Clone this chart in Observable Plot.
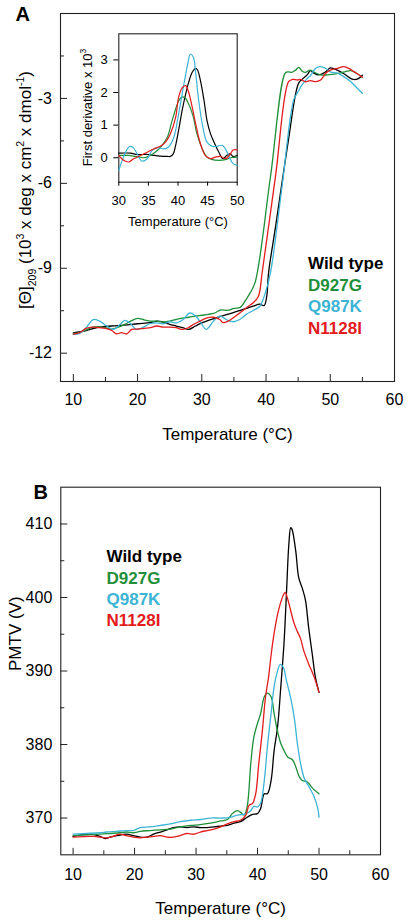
<!DOCTYPE html>
<html><head><meta charset="utf-8">
<script src="https://cdn.jsdelivr.net/npm/d3@7"></script>
<script src="https://cdn.jsdelivr.net/npm/@observablehq/plot@0.6"></script>
<style>
body{margin:0;background:#fff;}
#wrap{position:relative;width:408px;height:922px;background:#fff;}
#wrap svg{position:absolute;overflow:visible;}
</style></head><body><div id="wrap"></div>
<script>
// ---------- data ----------
const seriesNames = ["Wild type", "D927G", "Q987K", "N1128I"];
const seriesColors = ["#000000", "#1f8f3a", "#3cb4d4", "#e41a1c"];

// Panel A: molar ellipticity at 209 nm (10^3 deg cm2 dmol-1) vs temperature (°C)
const cdWildType = [[10,-11.28],[12,-11.2],[14,-11.08],[16,-11.04],[18,-11.01],[20,-10.96],[22,-10.92],[23,-10.87],[24,-10.9],[25,-10.98],[26,-11.04],[27,-11.1],[28,-11.16],[29,-11.04],[30,-10.93],[32,-10.77],[34,-10.63],[36,-10.49],[38,-10.34],[39,-10.27],[39.7,-10.32],[40.1,-10.0],[40.4,-9.15],[41.5,-7.5],[42.5,-5.95],[43.5,-4.45],[44.6,-2.85],[45.1,-2.45],[45.6,-2.33],[46.4,-2.17],[46.9,-2.02],[47.4,-2.1],[48.2,-2.17],[49.3,-2.06],[50.0,-1.92],[51.1,-2.0],[52.4,-2.17],[53.4,-2.32],[54.2,-2.32],[55,-2.18]];
const cdD927G = [[10,-11.3],[11,-11.27],[12,-11.18],[13,-11.08],[14,-11.06],[15,-11.1],[16,-11.15],[17,-11.08],[18,-10.98],[19,-10.86],[20,-10.77],[21,-10.82],[22,-10.87],[23,-10.87],[24,-10.9],[25,-10.87],[26,-10.81],[27,-10.76],[28,-10.73],[29,-10.69],[30,-10.66],[31,-10.63],[32,-10.58],[33,-10.47],[34,-10.49],[35,-10.42],[36,-10.38],[36.7,-10.17],[37.5,-9.88],[38.3,-9.5],[40.7,-5.75],[43.0,-2.1],[43.5,-2.06],[44.0,-2.08],[44.6,-2.0],[45.1,-1.9],[45.6,-2.03],[46.1,-2.08],[46.9,-2.0],[47.7,-2.1],[48.5,-2.17],[49.5,-2.17],[50.6,-2.14],[51.6,-2.1],[52.4,-2.05],[53.2,-2.02],[54,-2.1],[55,-2.25]];
const cdQ987K = [[10,-11.33],[11,-11.3],[12,-11.1],[13.1,-10.81],[14.1,-10.87],[15.2,-11.04],[16.2,-11.16],[17.3,-10.98],[18,-10.84],[18.8,-10.93],[19.8,-11.16],[20.9,-11.08],[21.9,-10.96],[23,-10.93],[24,-10.96],[25,-10.89],[26.1,-10.93],[27.1,-10.81],[28.1,-10.58],[28.9,-10.66],[29.7,-10.87],[30.7,-11.16],[31.8,-10.87],[32.8,-10.69],[33.8,-10.81],[34.9,-10.89],[35.9,-10.81],[36.9,-10.63],[38,-10.49],[39,-10.35],[39.9,-9.86],[40.7,-9.15],[42.5,-6.1],[44.3,-3.05],[44.9,-2.8],[45.6,-2.52],[46.4,-2.3],[46.9,-2.2],[47.7,-1.94],[48.4,-1.88],[49.3,-1.94],[50,-2.06],[51.1,-2.11],[52.1,-2.23],[53.2,-2.41],[54.2,-2.64],[55,-2.82]];
const cdN1128I = [[10,-11.33],[11,-11.27],[12,-11.12],[13,-11.08],[14,-11.1],[15,-11.12],[16,-11.2],[16.7,-11.32],[17.5,-11.27],[18.3,-11.32],[19.1,-11.16],[20,-11.15],[21,-11.12],[22,-11.1],[23,-11.04],[24,-11.08],[25,-11.08],[26,-11.1],[27,-11.16],[27.9,-11.1],[28.7,-10.98],[29.7,-10.87],[30.7,-10.76],[31.8,-10.73],[32.8,-10.81],[33.3,-10.92],[34.1,-10.87],[34.9,-10.75],[35.9,-10.58],[36.9,-10.4],[38,-10.22],[38.8,-10.0],[39.4,-9.15],[41.5,-5.7],[43.5,-2.41],[44.1,-2.33],[44.9,-2.35],[45.4,-2.33],[46.1,-2.41],[46.9,-2.37],[47.7,-2.41],[48.5,-2.35],[49.3,-2.11],[50,-2.0],[51.1,-1.94],[52.1,-1.88],[52.9,-1.94],[53.7,-2.06],[54.5,-2.17],[55,-2.25]];

// Inset: first derivative x 10^3
const dWildType = [[30,0.14],[32,0.14],[33.1,0.1],[35,0.1],[36,0.07],[37,0.05],[38.2,0.04],[38.7,0.04],[39.2,0.12],[39.6,0.38],[40.1,0.84],[40.7,1.45],[41.3,1.96],[41.8,2.31],[42.4,2.62],[43.0,2.74],[43.3,2.69],[43.8,2.36],[44.4,1.75],[44.9,1.14],[45.5,0.73],[46.2,0.43],[46.9,0.17],[47.6,-0.03],[48.2,0.07],[48.8,0.12],[49.3,0.04],[50,0.07]];
const dD927G = [[30,0.07],[31.5,0.07],[32.8,0.04],[34.2,0],[35.3,0.07],[36.5,0.22],[37.3,0.38],[38.2,0.63],[39,1.14],[39.9,1.65],[40.5,1.85],[41.1,1.85],[41.8,1.65],[42.6,1.24],[43.2,0.73],[44.1,0.27],[44.9,0.02],[45.8,-0.06],[46.9,-0.08],[48,-0.06],[48.9,0],[50,0.02]];
const dQ987K = [[30,-0.39],[30.8,0.02],[31.7,0.33],[32.3,0.33],[33.1,0.12],[33.9,-0.1],[34.8,-0.03],[35.6,0.22],[36.5,0.31],[37.6,0.27],[38.4,0.33],[39.3,0.63],[40.1,1.34],[41,2.26],[41.7,2.92],[42.1,3.18],[42.6,3.08],[43,2.57],[43.5,1.75],[44.2,0.94],[44.9,0.48],[45.8,0.35],[46.6,0.35],[47.5,0.38],[48,0.27],[48.8,-0.03],[49.3,-0.18],[50,-0.23]];
const dN1128I = [[30,0.07],[30.8,-0.08],[31.7,-0.13],[32.5,-0.03],[33.7,0.07],[34.8,0.17],[35.9,0.27],[37,0.35],[37.9,0.48],[38.7,0.73],[39.6,1.24],[40.1,1.85],[40.7,2.14],[41.3,2.21],[41.8,2.01],[42.4,1.55],[43.1,0.94],[43.8,0.43],[44.6,0.07],[45.5,-0.03],[46.3,0.02],[47.2,0.04],[48,-0.03],[48.8,0.1],[49.3,0.24],[50,0.24]];

// Panel B: PMTV (V)
const pmWildType = [[10,367.5],[12.7,367.8],[14.4,367.5],[15.2,367.2],[16,367.4],[17.1,367.6],[18.7,367.8],[19.8,367.6],[20.9,367.4],[22,367.4],[23.1,367.8],[24.2,368.1],[25.3,368.4],[26.3,368.7],[27.4,368.8],[28.5,368.7],[29.6,368.8],[30.7,368.7],[31.8,368.7],[32.9,368.8],[34,368.9],[35.1,369],[36.2,369.3],[37.2,369.5],[38.3,370.1],[39.2,370.5],[40,370.6],[40.5,371.3],[41.1,373.3],[41.6,373.3],[42.2,375.1],[42.7,379.2],[43.2,382],[43.5,384.6],[43.7,386.9],[44.3,393.7],[44.7,400.5],[45.1,407.3],[45.4,409.5],[45.6,409.3],[46.2,406.4],[46.7,402.7],[47.3,401.2],[47.8,399.6],[48.3,396],[48.9,392.3],[49.4,389.2],[50,387.1]];
const pmD927G = [[10,367.6],[14.4,367.8],[16,367.9],[17.6,368],[18.7,368.1],[19.8,368],[20.9,368.2],[22.5,368.3],[24.2,368.4],[25.8,368.5],[27.4,368.8],[29.1,369],[30.7,369.1],[32.3,369.3],[34,369.6],[35.1,369.8],[35.9,370.6],[36.7,371],[37.2,370.8],[37.8,370.4],[38.3,371.5],[38.9,377.4],[39.4,381],[40,382.9],[40.5,384.2],[41.1,386.5],[41.6,387],[42.2,386.5],[42.7,384.2],[43.2,382],[43.8,380.1],[44.3,379.2],[44.9,378.3],[45.7,377.9],[46.2,377],[46.8,375.6],[47.3,375.1],[48.1,374.9],[49,374],[50,373.3]];
const pmQ987K = [[10,367.8],[14.4,368],[15.4,368.1],[17.1,368.2],[18.7,368.3],[19.8,368.3],[20.9,368.7],[22.5,368.8],[24.2,369],[25.8,369.2],[27.4,369.5],[29.1,369.7],[30.7,369.8],[32.3,370],[34,370],[35.6,370.1],[36.7,370.4],[37.8,370.5],[38.9,371],[39.4,371.6],[40,371.5],[40.5,372],[41.1,375.1],[41.6,379.7],[42.2,384.2],[42.7,387.9],[43.1,389.5],[43.7,390.9],[44.2,390.5],[44.7,388.7],[45.4,386.3],[46,383.5],[46.5,380],[47.1,377],[47.6,375.4],[48.4,374.2],[49.2,372.9],[49.8,371.3],[50,370.1]];
const pmN1128I = [[10,367.4],[13.3,367.5],[15.4,367.3],[16.5,367.5],[17.6,367.8],[18.7,367.6],[19.8,367.4],[20.9,367.3],[22,367.4],[23.1,367.5],[24.2,367.6],[25.3,367.4],[26.3,367.4],[27.4,367.6],[28.5,367.9],[29.6,367.8],[30.7,368.1],[31.8,368.3],[32.9,368.5],[34,368.8],[35.1,369.2],[36.2,369.5],[37.2,369.7],[38.1,370.4],[38.6,371.7],[39.2,372],[39.7,373.3],[40.2,377.4],[40.8,382],[41.3,386.5],[41.8,389.2],[42.1,391.4],[42.6,394.6],[43.4,398.2],[44.3,400.5],[44.5,400.7],[44.9,399.8],[45.4,398.2],[45.9,396.6],[46.4,395.5],[47,394.4],[47.5,392.8],[48.3,391],[49.2,389.2],[50,387.1]];

// ticks
const xMajor = [10, 20, 30, 40, 50, 60];
const xMinor = [15, 25, 35, 45, 55];
const yMajorA = [-3, -6, -9, -12];
const yMinorA = [-1.5, -4.5, -7.5, -10.5];
const xTicksInset = [30, 35, 40, 45, 50];
const yTicksInset = [0, 1, 2, 3];
const yMajorB = [370, 380, 390, 400, 410];
const yMinorB = [375, 385, 395, 405];

// ---------- build ----------
const FONT = "'Liberation Sans', Arial, Helvetica, sans-serif";
const rows = (sets) => sets.flatMap((pairs, i) => pairs.map(([t, v]) => ({series: seriesNames[i], t, v})));
const cdRows = rows([cdWildType, cdD927G, cdQ987K, cdN1128I]);
const dRows = rows([dWildType, dD927G, dQ987K, dN1128I]);
const pmRows = rows([pmWildType, pmD927G, pmQ987K, pmN1128I]);
const color = {domain: seriesNames, range: seriesColors};
const wrap = document.getElementById("wrap");
const place = (svg, left, top) => { svg.style.left = left + "px"; svg.style.top = top + "px"; wrap.appendChild(svg); return svg; };
const legend = (dx, dy0, step) => seriesNames.map((name, i) => Plot.text([name], {
  frameAnchor: "top-left", dx, dy: dy0 + i * step, textAnchor: "start", lineAnchor: "bottom",
  fill: seriesColors[i], fontWeight: "bold", fontSize: 17
}));

// Panel A
const A = {w: 408, h: 445, top: 13, right: 14, bottom: 64, left: 60};
const innerWA = A.w - A.left - A.right, innerHA = A.h - A.top - A.bottom;
const plotA = Plot.plot({
  width: A.w, height: A.h, marginTop: A.top, marginRight: A.right, marginBottom: A.bottom, marginLeft: A.left,
  x: {domain: [8, 60]}, y: {domain: [-13, 0]}, color,
  style: {fontFamily: FONT, fontSize: "16px", color: "black", background: "transparent"},
  marks: [
    Plot.frame({stroke: "#222", strokeWidth: 1.1}),
    Plot.tickX(xMajor, {x: d => d, insetTop: innerHA - 7, stroke: "#222"}),
    Plot.tickX(xMinor, {x: d => d, insetTop: innerHA - 4, stroke: "#222"}),
    Plot.tickY(yMajorA, {y: d => d, insetRight: innerWA - 7, stroke: "#222"}),
    Plot.tickY(yMinorA, {y: d => d, insetRight: innerWA - 4, stroke: "#222"}),
    Plot.axisX(xMajor, {tickSize: 0, tickPadding: 12, label: null, tickFormat: d => String(d), fontSize: 16}),
    Plot.axisY(yMajorA, {tickSize: 0, tickPadding: 8.5, label: null, tickFormat: d => String(d), fontSize: 16}),
    Plot.line(cdRows, {x: "t", y: "v", z: "series", stroke: "series", curve: "catmull-rom", strokeWidth: 1.3}),
    Plot.text(["Temperature (°C)"], {frameAnchor: "bottom", dy: 58, lineAnchor: "bottom", fontSize: 17}),
    Plot.text(["A"], {frameAnchor: "top-left", dx: -45, dy: 7, lineAnchor: "bottom", textAnchor: "start", fontWeight: "bold", fontSize: 20}),
    ...legend(247.5, 255.5, 21.5)
  ]
});
place(plotA, 0, 0);
{
  const t = d3.select(plotA).append("text")
    .attr("transform", "translate(31,190) rotate(-90)")
    .attr("text-anchor", "middle").attr("font-family", FONT).attr("font-size", 17).attr("fill", "black");
  const parts = [["[Θ]", 0, 17], ["209", 4.5, 10.5], [" (10", 0, 17], ["3", -7, 10.5], [" x deg x cm", 0, 17], ["2", -7, 10.5], [" x dmol", 0, 17], ["-1", -7, 10.5], [")", 0, 17]];
  let prev = 0;
  for (const [s, shift, fs] of parts) {
    t.append("tspan").attr("dy", shift - prev).attr("font-size", fs).text(s);
    prev = shift;
  }
}

// Inset
const I = {w: 190, h: 215, top: 13.3, right: 13.3, bottom: 53.3, left: 58.3};
const plotI = Plot.plot({
  width: I.w, height: I.h, marginTop: I.top, marginRight: I.right, marginBottom: I.bottom, marginLeft: I.left,
  x: {domain: [30, 50]}, y: {domain: [-0.75, 3.8]}, color,
  style: {fontFamily: FONT, fontSize: "13px", color: "black", background: "transparent"},
  marks: [
    Plot.frame({stroke: "#222", strokeWidth: 1.1}),
    Plot.axisX(xTicksInset, {tickSize: 4, tickPadding: 10, label: null, tickFormat: d => String(d), fontSize: 13}),
    Plot.axisY(yTicksInset, {tickSize: 5, tickPadding: 6, label: null, tickFormat: d => String(d), fontSize: 13}),
    Plot.line(dRows, {x: "t", y: "v", z: "series", stroke: "series", curve: "catmull-rom", strokeWidth: 1.2}),
    Plot.text(["Temperature (°C)"], {frameAnchor: "bottom", dy: 43.8, lineAnchor: "bottom", fontSize: 13})
  ]
});
place(plotI, 60, 20);
{
  const t = d3.select(plotI).append("text")
    .attr("transform", "translate(31.7,87.5) rotate(-90)")
    .attr("text-anchor", "middle").attr("font-family", FONT).attr("font-size", 13).attr("fill", "black");
  t.append("tspan").text("First derivative x 10");
  t.append("tspan").attr("dy", -5.5).attr("font-size", 8.5).text("3");
}

// Panel B
const B = {w: 408, h: 477, top: 41.7, right: 28, bottom: 67.7, left: 60.3};
const innerWB = B.w - B.left - B.right, innerHB = B.h - B.top - B.bottom;
const plotB = Plot.plot({
  width: B.w, height: B.h, marginTop: B.top, marginRight: B.right, marginBottom: B.bottom, marginLeft: B.left,
  x: {domain: [8, 60]}, y: {domain: [365, 415]}, color,
  style: {fontFamily: FONT, fontSize: "16px", color: "black", background: "transparent"},
  marks: [
    Plot.frame({stroke: "#222", strokeWidth: 1.1}),
    Plot.tickX(xMajor, {x: d => d, insetTop: innerHB - 6.5, stroke: "#222"}),
    Plot.tickX(xMinor, {x: d => d, insetTop: innerHB - 4, stroke: "#222"}),
    Plot.tickY(yMajorB, {y: d => d, insetRight: innerWB - 7, stroke: "#222"}),
    Plot.tickY(yMinorB, {y: d => d, insetRight: innerWB - 4, stroke: "#222"}),
    Plot.axisX(xMajor, {tickSize: 0, tickPadding: 14, label: null, tickFormat: d => String(d), fontSize: 16}),
    Plot.axisY(yMajorB, {tickSize: 0, tickPadding: 8.5, label: null, tickFormat: d => String(d), fontSize: 16}),
    Plot.line(pmRows, {x: "t", y: "v", z: "series", stroke: "series", curve: "catmull-rom", strokeWidth: 1.3}),
    Plot.text(["Temperature (°C)"], {frameAnchor: "bottom", dy: 59.6, lineAnchor: "bottom", fontSize: 17}),
    Plot.text(["PMTV (V)"], {frameAnchor: "left", dx: -40.3, rotate: -90, lineAnchor: "bottom", fontSize: 17}),
    Plot.text(["B"], {frameAnchor: "top-left", dx: -27.3, dy: 11.3, lineAnchor: "bottom", textAnchor: "start", fontWeight: "bold", fontSize: 20}),
    ...legend(45.7, 75, 21.4)
  ]
});
place(plotB, 0, 445);
</script></body></html>
